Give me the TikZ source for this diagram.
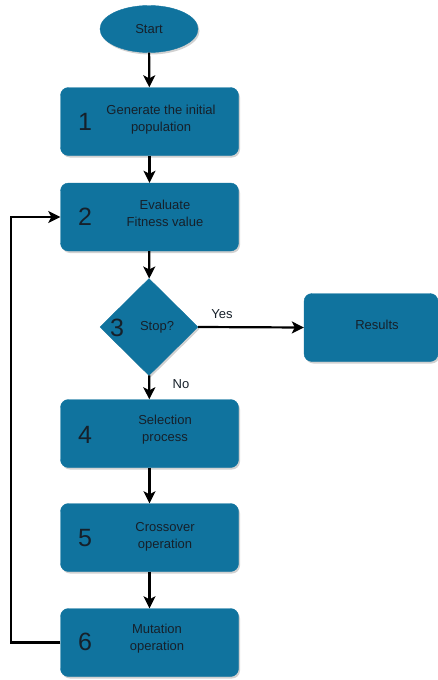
\documentclass[tikz,border=0pt]{standalone}
\usepackage{fontspec}
\setmainfont{Liberation Sans}
\usetikzlibrary{shapes.geometric,arrows.meta,shadows}
\definecolor{boxblue}{HTML}{10739E}
\definecolor{txt}{HTML}{16202A}
\begin{document}
\begin{tikzpicture}[x=1pt,y=-1pt,
  shad/.style={drop shadow={shadow xshift=1.5pt,shadow yshift=-2pt,fill=black,opacity=0.18}},
  stepbox/.style={rectangle,rounded corners=8pt,fill=boxblue,draw=boxblue,minimum width=178pt,minimum height=68pt,inner sep=0pt,shad},
  lbl/.style={font=\fontsize{13}{17}\selectfont,text=txt,align=center,inner sep=0pt},
  num/.style={font=\fontsize{25}{25}\selectfont,text=txt,inner sep=0pt},
  arr/.style={line width=2.2pt,-{Stealth[length=12pt,width=12pt,inset=3pt]}}
]
\useasboundingbox (0,0) rectangle (438,680);
% shapes
\node[ellipse,fill=boxblue,draw=boxblue,minimum width=98pt,minimum height=47pt,inner sep=0pt,shad] (start) at (149,29) {};
\node[stepbox] (b1) at (149.5,121.5) {};
\node[stepbox] (b2) at (149.5,217) {};
\node[diamond,fill=boxblue,draw=boxblue,minimum width=98pt,minimum height=97pt,inner sep=0pt,shad] (d3) at (149,327) {};
\node[stepbox,minimum width=134pt] (res) at (371,327.5) {};
\node[stepbox] (b4) at (149.5,433.5) {};
\node[stepbox] (b5) at (149.5,537.5) {};
\node[stepbox] (b6) at (149.5,642.5) {};
% texts
\node[lbl] (tstart) at (149,29) {Start};
\node[num] (n1) at (85,122) {1};
\node[lbl] (t1) at (161,120) {Generate the initial\\population};
\node[num] (n2) at (85,217) {2};
\node[lbl] (t2) at (165,213) {Evaluate\\Fitness value};
\node[num] (n3) at (117,328) {3};
\node[lbl] (t3) at (157,327) {Stop?};
\node[lbl] (tres) at (377,325) {Results};
\node[num] (n4) at (85,435) {4};
\node[lbl] (t4) at (165,430) {Selection\\process};
\node[num] (n5) at (85,538) {5};
\node[lbl] (t5) at (165,537) {Crossover\\operation};
\node[num] (n6) at (85,642) {6};
\node[lbl] (t6) at (157,639) {Mutation\\operation};
% connectors
\draw[arr] (start) -- (b1);
\draw[arr] (b1) -- (b2);
\draw[arr] (b2) -- (d3);
\draw[arr] (d3) -- (b4);
\draw[arr] (b4) -- (b5);
\draw[arr] (b5) -- (b6);
\draw[arr] (d3.east) -- (res.west);
\coordinate (fb) at (11,642.5);
\draw[arr] (b6.west) -- (fb) |- (b2.west);
\node[lbl] (yes) at (222,314) {Yes};
\node[lbl] (no) at (181,384) {No};
\end{tikzpicture}
\end{document}
